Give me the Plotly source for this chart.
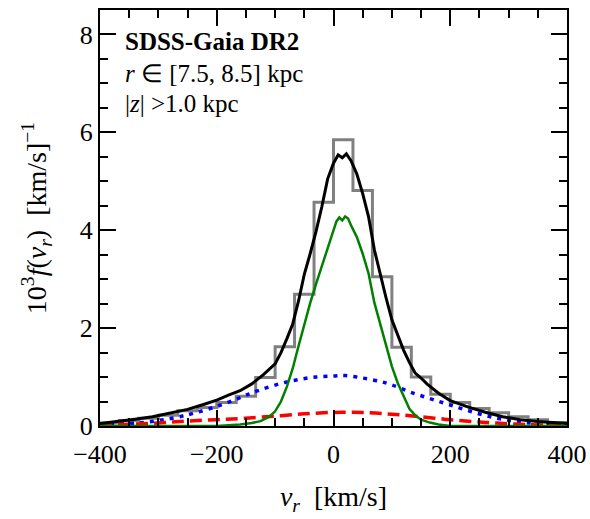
import numpy as np
import plotly.graph_objects as go

# ---------------- data ----------------
hist_lo, hist_hi, n_bins = -400, 400, 24
hist_vals = [0.06, 0.11, 0.16, 0.22, 0.31, 0.38, 0.48, 0.61, 0.99, 1.62, 2.69, 4.57,
             5.85, 4.81, 3.05, 1.61, 1.00, 0.65, 0.48, 0.36, 0.27, 0.19, 0.13, 0.07]

tot_v = [-400, -370, -340, -310, -280, -250, -220, -200, -180, -160, -140, -120, -100,
         -90, -80, -70, -60, -50, -40, -30, -20, -10, 0, 8, 15, 22, 30, 40, 50, 60, 70,
         80, 90, 100, 110, 120, 130, 140, 150, 160, 180, 200, 230, 260, 290, 320, 350, 380, 400]
tot_f = [0.05, 0.09, 0.14, 0.19, 0.26, 0.34, 0.45, 0.53, 0.63, 0.72, 0.86, 1.05, 1.27,
         1.50, 1.78, 2.08, 2.55, 3.10, 3.52, 3.97, 4.48, 5.05, 5.37, 5.54, 5.48, 5.56, 5.42,
         5.15, 4.75, 4.28, 3.60, 3.08, 2.62, 2.17, 1.85, 1.55, 1.30, 1.08, 0.98, 0.86, 0.67,
         0.52, 0.39, 0.28, 0.19, 0.13, 0.09, 0.06, 0.05]

disk_v = [-400, -200, -160, -140, -125, -110, -100, -90, -80, -70, -60, -50, -40, -30,
          -20, -10, 0, 5, 10, 15, 20, 25, 30, 40, 50, 60, 70, 80, 90, 100, 110, 120, 130,
          140, 150, 165, 180, 200, 400]
disk_f = [0.0, 0.0, 0.03, 0.06, 0.10, 0.19, 0.30, 0.50, 0.80, 1.17, 1.63, 2.08, 2.51, 2.90,
          3.28, 3.66, 4.01, 4.18, 4.26, 4.20, 4.28, 4.24, 4.10, 3.86, 3.52, 3.12, 2.52, 2.07,
          1.65, 1.22, 0.88, 0.60, 0.35, 0.22, 0.13, 0.07, 0.03, 0.0, 0.0]

halo1_v = [-400, -350, -320, -290, -260, -240, -200, -170, -150, -125, -90, -60, -30, 0,
           20, 50, 80, 100, 130, 165, 200, 240, 280, 315, 350, 400]
halo1_f = [0.02, 0.05, 0.08, 0.13, 0.20, 0.26, 0.40, 0.53, 0.63, 0.74, 0.87, 0.95, 1.00,
           1.02, 1.03, 0.98, 0.91, 0.84, 0.70, 0.56, 0.43, 0.28, 0.16, 0.09, 0.05, 0.02]

halo2_v = [-400, -340, -290, -250, -200, -150, -90, -35, 15, 60, 100, 140, 190, 240, 280,
           330, 400]
halo2_f = [0.02, 0.04, 0.07, 0.10, 0.13, 0.16, 0.21, 0.26, 0.28, 0.27, 0.24, 0.20, 0.14,
           0.09, 0.06, 0.03, 0.01]

x_ticks = [-400, -200, 0, 200, 400]
y_ticks = [0, 2, 4, 6, 8]

SERIF = "Liberation Serif"

# ---------------- figure ----------------
edges = np.linspace(hist_lo, hist_hi, n_bins + 1)
hx = [edges[0]] + list(edges) + [edges[-1]]
hy = [0] + list(hist_vals) + [hist_vals[-1], 0]

fig = go.Figure()
fig.add_trace(go.Scatter(x=hx, y=hy, mode="lines", line=dict(color="#808080", width=3, shape="hv"),
                         hoverinfo="skip"))
fig.add_trace(go.Scatter(x=halo1_v, y=halo1_f, mode="lines", line=dict(color="blue", width=3.5, dash="4px,6px", shape="spline"),
                         hoverinfo="skip"))
fig.add_trace(go.Scatter(x=halo2_v, y=halo2_f, mode="lines", line=dict(color="red", width=3.5, dash="12px,6px", shape="spline"),
                         hoverinfo="skip"))
fig.add_trace(go.Scatter(x=disk_v, y=disk_f, mode="lines", line=dict(color="green", width=2.5),
                         hoverinfo="skip"))
fig.add_trace(go.Scatter(x=tot_v, y=tot_f, mode="lines", line=dict(color="black", width=3),
                         hoverinfo="skip"))

axis_common = dict(
    showline=True, linecolor="black", linewidth=2, mirror="ticks",
    ticks="inside", ticklen=16, tickwidth=1.5, tickcolor="black",
    showgrid=False, zeroline=False, automargin=False,
    tickfont=dict(family=SERIF, size=26, color="black"),
)
fig.update_xaxes(range=[-400, 400], tickvals=x_ticks, ticktext=[f"{t}".replace("-", "\u2212") for t in x_ticks],
                 ticklabelstandoff=4,
                 minor=dict(ticks="inside", ticklen=8, tickwidth=1.5, dtick=50, tick0=0, tickcolor="black"),
                 title=dict(text="<i>v<sub>r</sub></i>  [km/s]", font=dict(family=SERIF, size=28, color="black"), standoff=18),
                 **axis_common)
fig.update_yaxes(range=[0, 8.5], tickvals=y_ticks,
                 minor=dict(ticks="inside", ticklen=8, tickwidth=1.5, dtick=0.5, tick0=0, tickcolor="black"),
                 title=dict(text="10<sup>3</sup><i>f</i>(<i>v<sub>r</sub></i>)  [km/s]<sup>\u22121</sup>",
                            font=dict(family=SERIF, size=28, color="black"), standoff=25),
                 **axis_common)

ann_font = dict(family=SERIF, size=25, color="black")
fig.add_annotation(xref="paper", yref="paper", x=0.049, y=(426 - 42) / 416, xanchor="left", yanchor="middle",
                   text="<b>SDSS-Gaia DR2</b>", showarrow=False, font=ann_font)
fig.add_annotation(xref="paper", yref="paper", x=0.049, y=(426 - 73) / 416, xanchor="left", yanchor="middle",
                   text="<i>r</i> \u2208 [7.5, 8.5] kpc", showarrow=False, font=ann_font)
fig.add_annotation(xref="paper", yref="paper", x=0.049, y=(426 - 103) / 416, xanchor="left", yanchor="middle",
                   text="|<i>z</i>| >1.0 kpc", showarrow=False, font=ann_font)

fig.update_layout(
    width=590, height=519,
    margin=dict(l=100, r=23, t=10, b=93),
    paper_bgcolor="white", plot_bgcolor="white",
    showlegend=False,
)
fig.write_html("out.html")
